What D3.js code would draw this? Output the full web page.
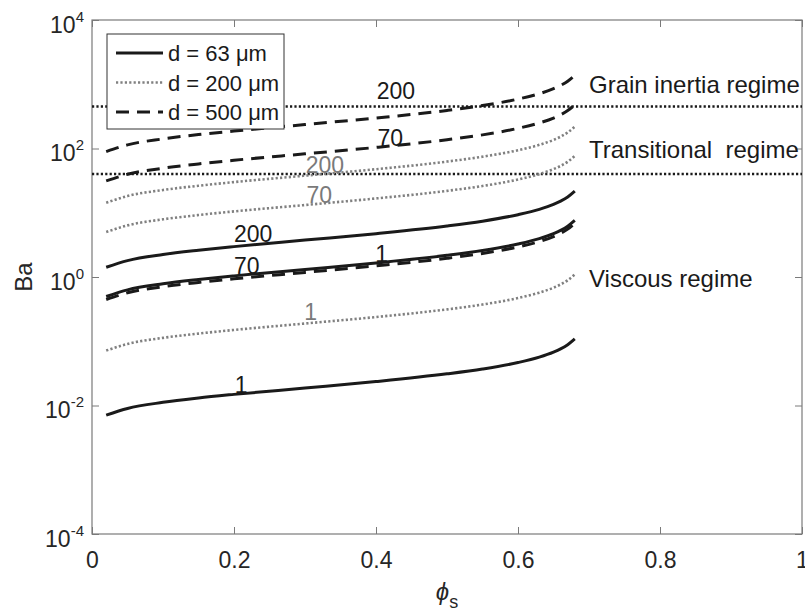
<!DOCTYPE html>
<html>
<head lang="en">
    <meta charset="UTF-8">
    <title>Ba vs phi_s</title>
    <script src="https://d3js.org/d3.v7.min.js"></script>
</head>
<body style="margin:0;background:#fff">
<svg id="chart" width="805" height="613"></svg>
<style>
    text{ font-family: "Liberation Sans", Arial, sans-serif; fill:#262626; }
    .pre{ white-space: pre; }
</style>
<script>

    // volume fraction samples
    const PHI = [0.02, 0.05, 0.1, 0.15, 0.2, 0.3, 0.4, 0.5, 0.55, 0.6, 0.63, 0.65, 0.66, 0.67, 0.68];

    // d = 63 um
    const D63_G1   = [0.0071, 0.0090, 0.0112, 0.0131, 0.0149, 0.0187, 0.0236, 0.0311, 0.0370, 0.0466, 0.0566, 0.0677, 0.0760, 0.0882, 0.1086];
    const D63_G70  = [0.497, 0.631, 0.784, 0.914, 1.041, 1.311, 1.654, 2.174, 2.589, 3.264, 3.962, 4.738, 5.32, 6.175, 7.60];
    const D63_G200 = [1.42, 1.80, 2.24, 2.61, 2.97, 3.75, 4.73, 6.21, 7.40, 9.33, 11.3, 13.5, 15.2, 17.6, 21.7];
    // d = 200 um
    const D200_G1   = [0.0716, 0.0908, 0.1129, 0.1316, 0.1499, 0.1888, 0.2382, 0.313, 0.373, 0.470, 0.571, 0.682, 0.766, 0.889, 1.095];
    const D200_G70  = [5.01, 6.36, 7.90, 9.22, 10.49, 13.2, 16.7, 21.9, 26.1, 32.9, 39.9, 47.8, 53.6, 62.2, 76.6];
    const D200_G200 = [14.3, 18.2, 22.6, 26.3, 30.0, 37.8, 47.6, 62.6, 74.6, 94.0, 114, 136, 153, 178, 219];
    // d = 500 um
    const D500_G1   = [0.447, 0.568, 0.706, 0.823, 0.937, 1.180, 1.489, 1.956, 2.330, 2.938, 3.566, 4.264, 4.788, 5.558, 6.84];
    const D500_G70  = [31.3, 39.7, 49.4, 57.6, 65.6, 82.6, 104, 137, 163, 206, 250, 298, 335, 389, 479];
    const D500_G200 = [89.5, 114, 141, 165, 187, 236, 298, 391, 466, 588, 713, 853, 958, 1112, 1368];

    const LEGEND = ["d = 63 \u03bcm", "d = 200 \u03bcm", "d = 500 \u03bcm"];
    const THRESHOLDS = [40, 450];
    const X_TICKS = [0, 0.2, 0.4, 0.6, 0.8, 1];
    const X_TICK_LABELS = ["0", "0.2", "0.4", "0.6", "0.8", "1"];
    const Y_TICKS = [1e-4, 1e-2, 1, 1e2, 1e4];
    const Y_TICK_EXP = ["-4", "-2", "0", "2", "4"];

    // curve labels: text, phi, Ba at baseline
    const CURVE_LABELS = [
        {t:"1",   phi:0.21,  ba:0.0157, g:0},
        {t:"70",  phi:0.218, ba:1.11,   g:0},
        {t:"200", phi:0.227, ba:3.5,    g:0},
        {t:"1",   phi:0.308, ba:0.214,  g:1},
        {t:"70",  phi:0.32,  ba:14.2,   g:1},
        {t:"200", phi:0.328, ba:41.6,   g:1},
        {t:"1",   phi:0.408, ba:1.71,   g:0},
        {t:"70",  phi:0.42,  ba:109,    g:0},
        {t:"200", phi:0.428, ba:589,    g:0}
    ];
    const REGIMES = [
        {t:"Grain inertia regime", ba:731},
        {t:"Transitional  regime", ba:71.1},
        {t:"Viscous regime", ba:0.699}
    ];

    const styles = [
        {stroke:"#1a1a1a", width:3,   dash:null},
        {stroke:"#808080", width:2.6, dash:"2.2,2.2"},
        {stroke:"#1a1a1a", width:3,   dash:"13,8"}
    ];
    const series = [
        {v:D63_G1, s:0}, {v:D63_G70, s:0}, {v:D63_G200, s:0},
        {v:D200_G1, s:1}, {v:D200_G70, s:1}, {v:D200_G200, s:1},
        {v:D500_G1, s:2}, {v:D500_G70, s:2}, {v:D500_G200, s:2}
    ];

    let svg = d3.select('#chart');
    let margins = {top:20, right:3, bottom:79, left:92};
    let W = 805 - margins.left - margins.right, H = 613 - margins.top - margins.bottom;

    let x = d3.scaleLinear().domain([0, 1]).range([margins.left, margins.left + W]);
    let y = d3.scaleLog().domain([1e-4, 1e4]).range([margins.top + H, margins.top]);

    const axisColor = "#7a7a7a";

    // axes with inward ticks
    let gx = svg.append('g').attr('transform', `translate(0,${margins.top + H})`)
        .call(d3.axisBottom(x).tickValues(X_TICKS).tickSize(-7).tickSizeOuter(0)
            .tickFormat((d,i)=>X_TICK_LABELS[i]));
    gx.selectAll('text').attr('font-size', 23).attr('dy', null).attr('y', 34)
        .style('font-family', '"Liberation Sans", Arial, sans-serif').attr('fill', '#262626');

    svg.append('g').attr('transform', `translate(0,${margins.top})`)
        .call(d3.axisTop(x).tickValues(X_TICKS).tickSize(-7).tickSizeOuter(0).tickFormat(''));

    let gy = svg.append('g').attr('transform', `translate(${margins.left},0)`)
        .call(d3.axisLeft(y).tickValues(Y_TICKS).tickSize(-7).tickSizeOuter(0).tickFormat(''));
    gy.selectAll('.tick').each(function(d,i){
        let t = d3.select(this).append('text')
            .attr('x', -8).attr('y', 12).attr('text-anchor', 'end')
            .attr('font-size', 23).attr('fill', '#262626')
            .style('font-family', '"Liberation Sans", Arial, sans-serif');
        t.append('tspan').text('10');
        t.append('tspan').attr('dy', -11).attr('font-size', 15).text(Y_TICK_EXP[i]);
    });

    svg.append('g').attr('transform', `translate(${margins.left + W},0)`)
        .call(d3.axisRight(y).tickValues(Y_TICKS).tickSize(-7).tickSizeOuter(0).tickFormat(''));

    svg.selectAll('.domain').remove();
    svg.selectAll('.tick line').attr('stroke', axisColor);

    svg.append('rect').attr('x', margins.left).attr('y', margins.top)
        .attr('width', W).attr('height', H)
        .attr('fill', 'none').attr('stroke', axisColor).attr('stroke-width', 1.2);

    // threshold lines
    svg.selectAll('.thr').data(THRESHOLDS).enter().append('line')
        .attr('x1', x(0)).attr('x2', x(1))
        .attr('y1', d=>y(d)).attr('y2', d=>y(d))
        .attr('stroke', '#1a1a1a').attr('stroke-width', 2.6).attr('stroke-dasharray', '2.2,2.2');

    // curves
    let line = d3.line().x((d,i)=>x(PHI[i])).y(d=>y(d)).curve(d3.curveMonotoneX);
    svg.selectAll('.curve').data(series).enter().append('path')
        .attr('class', 'curve')
        .attr('d', d=>line(d.v))
        .attr('fill', 'none')
        .attr('stroke', d=>styles[d.s].stroke)
        .attr('stroke-width', d=>styles[d.s].width)
        .attr('stroke-dasharray', d=>styles[d.s].dash);

    // curve labels
    svg.selectAll('.clab').data(CURVE_LABELS).enter().append('text')
        .attr('x', d=>x(d.phi)).attr('y', d=>y(d.ba))
        .attr('text-anchor', 'middle').attr('font-size', 23)
        .style('fill', d=>d.g ? '#7a7a7a' : '#1a1a1a')
        .text(d=>d.t);

    // regime labels
    svg.selectAll('.reg').data(REGIMES).enter().append('text')
        .attr('class', 'pre')
        .attr('x', x(0.7)).attr('y', d=>y(d.ba))
        .attr('font-size', 24).style('fill', '#1a1a1a')
        .text(d=>d.t);

    // legend
    let lg = svg.append('g');
    lg.append('rect').attr('x', 107).attr('y', 34).attr('width', 177).attr('height', 95)
        .attr('fill', '#fff').attr('stroke', '#333').attr('stroke-width', 1);
    LEGEND.forEach((t,i)=>{
        let cy = 53 + i*29.5;
        lg.append('line').attr('x1', 116).attr('x2', 163).attr('y1', cy).attr('y2', cy)
            .attr('stroke', styles[i].stroke).attr('stroke-width', styles[i].width)
            .attr('stroke-dasharray', styles[i].dash);
        lg.append('text').attr('x', 168).attr('y', cy + 8).attr('font-size', 22)
            .style('fill', '#1a1a1a').text(t);
    });

    // axis titles
    let xl = svg.append('text').attr('x', x(0.5)).attr('y', 600).attr('text-anchor', 'middle')
        .attr('font-size', 24);
    xl.append('tspan').attr('font-style', 'italic').text('\u03d5');
    xl.append('tspan').attr('dy', 8).attr('font-size', 18).text('s');

    svg.append('text').attr('transform', `translate(32,${y(1)}) rotate(-90)`)
        .attr('text-anchor', 'middle').attr('font-size', 24).text('Ba');

</script>
</body>
</html>
